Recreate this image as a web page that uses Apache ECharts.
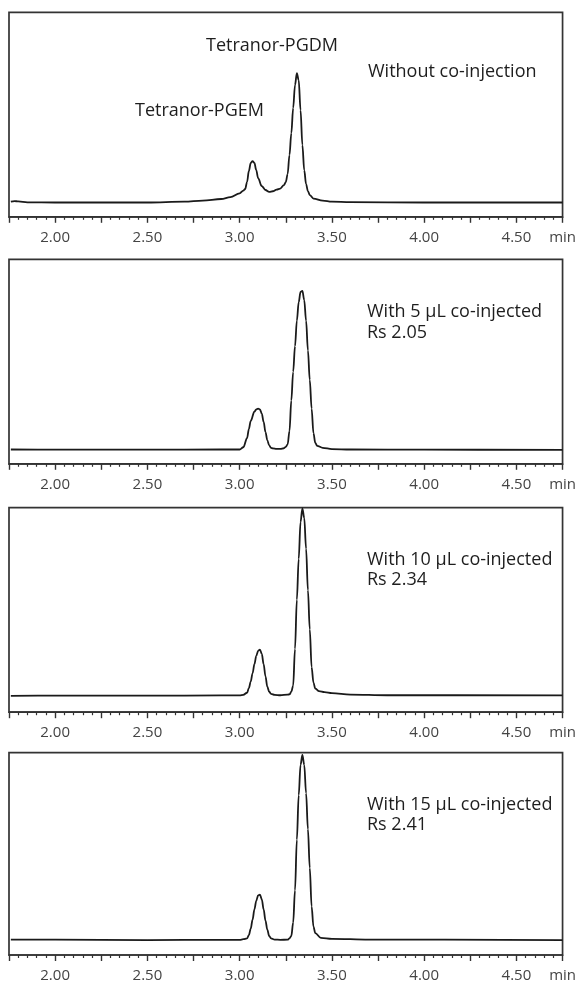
<!DOCTYPE html>
<html>
<head>
<meta charset="utf-8">
<script src="https://cdn.jsdelivr.net/npm/echarts@6/dist/echarts.min.js"></script>
<style>
html,body{margin:0;padding:0;background:#fff;}
#chart{width:579px;height:983px;}
</style>
</head>
<body>
<div id="chart"></div>
<script>
// ---- Data (retention time in min, detector signal in relative units) ----
const tickValues = [2.00, 2.50, 3.00, 3.50, 4.00, 4.50, 4.75];
const tickLabels = ['2.00', '2.50', '3.00', '3.50', '4.00', '4.50', 'min'];

const time1 = [1.76,1.78,1.80,1.85,2.00,2.50,2.70,2.80,2.90,2.95,3.00,3.02,3.03,3.04,3.05,3.06,3.07,3.08,3.09,3.10,3.12,3.14,3.16,3.18,3.20,3.22,3.24,3.25,3.26,3.27,3.28,3.29,3.30,3.31,3.32,3.33,3.34,3.35,3.36,3.37,3.38,3.40,3.45,3.50,3.60,4.00,4.75];
const signal1 = [7.4,7.7,7.5,7.1,7.0,7.0,7.4,7.9,8.7,9.6,11.5,12.8,13.6,17.0,22.4,26.3,27.2,26.3,22.8,18.9,15.0,13.1,12.2,12.5,13.3,13.8,15.5,17.0,20.9,30.2,40.9,53.2,64.4,70.3,66.8,52.2,35.1,22.8,16.0,12.6,10.6,8.9,7.9,7.4,7.2,7.0,7.0];

const time2 = [1.76,2.00,2.50,2.90,3.00,3.02,3.04,3.05,3.06,3.08,3.09,3.10,3.11,3.12,3.13,3.14,3.15,3.16,3.17,3.18,3.20,3.22,3.24,3.25,3.26,3.27,3.28,3.29,3.30,3.31,3.32,3.33,3.34,3.35,3.36,3.37,3.38,3.39,3.40,3.41,3.42,3.45,3.50,3.60,4.00,4.75];
const signal2 = [7.0,6.9,6.9,7.0,7.0,8.1,12.5,17.0,21.0,25.5,26.6,27.0,26.6,24.5,20.5,15.5,11.5,9.0,7.8,7.5,7.3,7.3,7.6,8.3,9.5,16.0,31.0,45.0,57.5,70.0,79.0,84.0,84.6,80.0,70.0,55.5,41.0,27.0,15.0,10.2,8.8,7.8,7.2,7.0,6.9,6.8];

const time3 = [1.76,2.00,2.50,2.90,3.00,3.02,3.04,3.05,3.06,3.07,3.08,3.09,3.10,3.11,3.12,3.13,3.14,3.15,3.16,3.17,3.19,3.22,3.26,3.27,3.28,3.29,3.30,3.31,3.32,3.33,3.34,3.35,3.36,3.37,3.38,3.39,3.40,3.41,3.43,3.46,3.50,3.60,3.80,4.75];
const signal3 = [8.0,8.1,8.1,8.2,8.2,8.5,9.5,11.8,15.0,19.0,23.5,27.5,30.0,30.6,28.5,23.5,17.5,12.5,10.0,9.0,8.5,8.3,8.6,8.7,10.0,13.0,31.0,55.0,75.0,93.0,99.7,95.0,80.0,59.7,40.5,22.0,14.5,11.5,10.3,9.8,9.3,8.6,8.3,8.2];

const time4 = [1.76,2.00,2.50,2.90,3.00,3.02,3.04,3.05,3.06,3.07,3.08,3.09,3.10,3.11,3.12,3.13,3.14,3.15,3.16,3.17,3.19,3.22,3.26,3.27,3.28,3.29,3.30,3.31,3.32,3.33,3.34,3.35,3.36,3.37,3.38,3.39,3.40,3.41,3.44,3.50,3.70,4.75];
const signal4 = [7.6,7.6,7.4,7.5,7.5,7.8,8.2,9.8,13.0,17.5,22.5,26.8,29.4,29.8,27.5,22.5,17.0,12.5,9.4,8.2,7.6,7.5,7.6,8.2,9.4,16.0,32.0,57.0,79.0,94.0,98.9,94.0,80.0,62.2,43.0,24.0,14.0,10.8,8.5,8.0,7.6,7.4];

const panelTimes = [time1, time2, time3, time4];
const panelSignals = [signal1, signal2, signal3, signal4];

// ---- Layout ----
const gridTops = [12.3, 259.3, 507.7, 752.7];
const gridHeight = 204.5;
const fontFamily = '"Open Sans", "Noto Sans", sans-serif';
const annFont = '18px ' + fontFamily;

const grids = [], xAxes = [], yAxes = [], series = [];
for (let i = 0; i < 4; i++) {
  grids.push({
    left: 9, right: 12.5, top: gridTops[i], height: gridHeight,
    show: true, borderColor: '#333', borderWidth: 1.7, backgroundColor: 'transparent'
  });
  xAxes.push({
    type: 'value', gridIndex: i, min: 1.75, max: 4.75, interval: 0.25,
    axisLine: { show: true, onZero: false, lineStyle: { color: '#333', width: 1.7 } },
    axisTick: { show: true, inside: false, length: 6, lineStyle: { color: '#333', width: 1.4 } },
    minorTick: { show: true, splitNumber: 5, length: 3, lineStyle: { color: '#333', width: 1.2 } },
    splitLine: { show: false },
    minorSplitLine: { show: false },
    axisLabel: {
      show: true, interval: 0, margin: 13, showMinLabel: true, showMaxLabel: true,
      color: '#444', fontSize: 15, fontFamily: fontFamily,
      formatter: function (v) {
        for (let k = 0; k < tickValues.length; k++) {
          if (Math.abs(v - tickValues[k]) < 1e-6) return tickLabels[k];
        }
        return '';
      }
    }
  });
  yAxes.push({
    type: 'value', gridIndex: i, min: 0, max: 100, show: false,
    splitLine: { show: false }
  });
  series.push({
    type: 'line', xAxisIndex: i, yAxisIndex: i,
    data: panelTimes[i].map((t, k) => [t, panelSignals[i][k]]),
    showSymbol: false, smooth: 0.35, smoothMonotone: 'x',
    lineStyle: { color: '#1a1a1a', width: 1.8 },
    clip: true, animation: false
  });
}

const ann = (x, y, s) => ({
  type: 'text', x: x, y: y,
  style: { text: s, fill: '#1e1e1e', font: annFont, verticalAlign: 'middle' }
});

const option = {
  animation: false,
  backgroundColor: '#fff',
  grid: grids,
  xAxis: xAxes,
  yAxis: yAxes,
  series: series,
  graphic: [
    ann(206, 45.5, 'Tetranor-PGDM'),
    ann(135, 111, 'Tetranor-PGEM'),
    ann(368, 72, 'Without co-injection'),
    ann(367, 312, 'With 5 µL co-injected'),
    ann(367, 333, 'Rs 2.05'),
    ann(367, 560, 'With 10 µL co-injected'),
    ann(367, 580, 'Rs 2.34'),
    ann(367, 805, 'With 15 µL co-injected'),
    ann(367, 825, 'Rs 2.41')
  ]
};

const chart = echarts.init(document.getElementById('chart'), null, { renderer: 'canvas' });
chart.setOption(option);
</script>
</body>
</html>
